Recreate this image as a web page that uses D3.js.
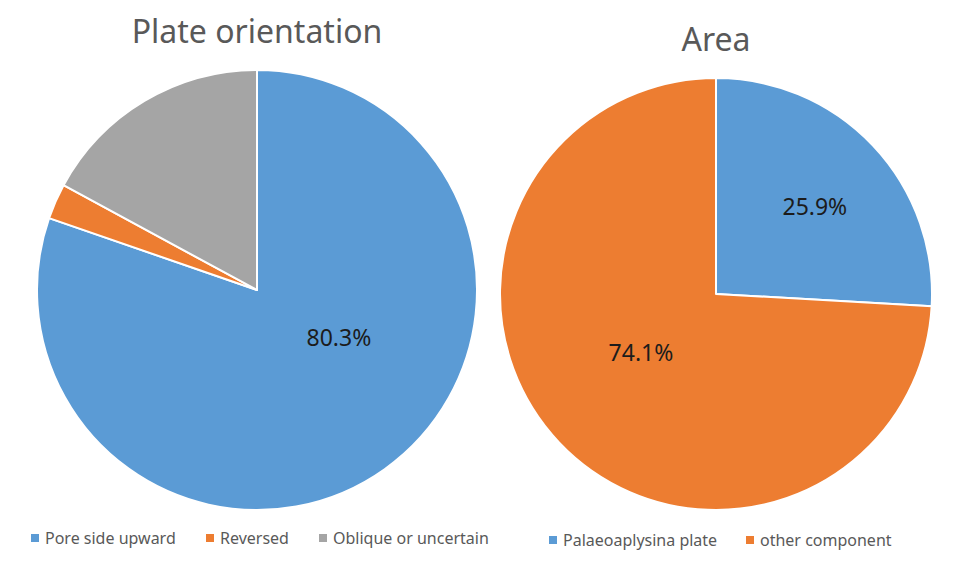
<!DOCTYPE html>
<html><head><meta charset="utf-8">
<script src="https://cdn.jsdelivr.net/npm/d3@7"></script>
<style>body{margin:0;background:#fff}svg{display:block}</style>
</head><body>
<svg id="c" width="960" height="568"></svg>
<script>
const orientCategories = ["Pore side upward", "Reversed", "Oblique or uncertain"];
const orientValues = [80.3, 2.6, 17.1];
const orientLabels = ["80.3%", "", ""];
const areaCategories = ["Palaeoaplysina plate", "other component"];
const areaValues = [25.9, 74.1];
const areaLabels = ["25.9%", "74.1%"];
const titles = ["Plate orientation", "Area"];
const palette = ["#5B9BD5", "#ED7D31", "#A5A5A5"];

const svg = d3.select("#c");
const font = "'Noto Sans', 'Open Sans', sans-serif";

function drawPie(cfg) {
  const g = svg.append("g").attr("transform", `translate(${cfg.cx},${cfg.cy})`);
  const pie = d3.pie().sort(null).value(d => d.v);
  const data = cfg.cats.map((c, i) => ({c, v: cfg.vals[i], l: cfg.labels[i], i}));
  const arcs = pie(data);
  const arc = d3.arc().innerRadius(0).outerRadius(cfg.r);
  g.selectAll("path").data(arcs).enter().append("path")
    .attr("d", arc)
    .attr("fill", d => palette[d.data.i])
    .attr("stroke", "#fff").attr("stroke-width", 2).attr("stroke-linejoin", "round");
  // label placement (Excel best-fit style): radial factor and angle nudge per slice
  g.selectAll("text.lab").data(arcs.filter(d => d.data.l)).enter().append("text")
    .attr("class", "lab")
    .attr("transform", d => {
      const p = cfg.place[d.data.i];
      const a = (d.startAngle + d.endAngle) / 2 + p.da * Math.PI / 180;
      const rr = cfg.r * p.f;
      return `translate(${rr * Math.sin(a)},${-rr * Math.cos(a)})`;
    })
    .attr("text-anchor", "middle").attr("dy", "0.36em")
    .attr("font-family", font).attr("font-size", 23).attr("fill", "#1c1c1c")
    .text(d => d.data.l);
  svg.append("text").attr("x", cfg.cx).attr("y", cfg.ty)
    .attr("text-anchor", "middle").attr("font-family", font)
    .attr("font-size", 32).attr("fill", "#595959").text(cfg.title);
  // legend
  const lg = svg.append("g").attr("transform", `translate(0,${cfg.ly})`);
  cfg.cats.forEach((c, i) => {
    const x = cfg.lx[i];
    lg.append("rect").attr("x", x).attr("y", -4).attr("width", 8).attr("height", 8)
      .attr("fill", palette[i]);
    lg.append("text").attr("x", x + 14).attr("y", 0).attr("dy", "0.35em")
      .attr("font-family", font).attr("font-size", 16).attr("fill", "#595959").text(c);
  });
}

drawPie({cx: 257, cy: 290, r: 220, cats: orientCategories, vals: orientValues,
  labels: orientLabels, title: titles[0], ty: 43, ly: 538, lx: [31, 206, 319],
  place: [{f: 0.43, da: -24.5}]});
drawPie({cx: 716, cy: 294, r: 216, cats: areaCategories, vals: areaValues,
  labels: areaLabels, title: titles[1], ty: 51, ly: 540, lx: [549, 746],
  place: [{f: 0.61, da: 2}, {f: 0.44, da: 5.5}]});
</script>
</body></html>
